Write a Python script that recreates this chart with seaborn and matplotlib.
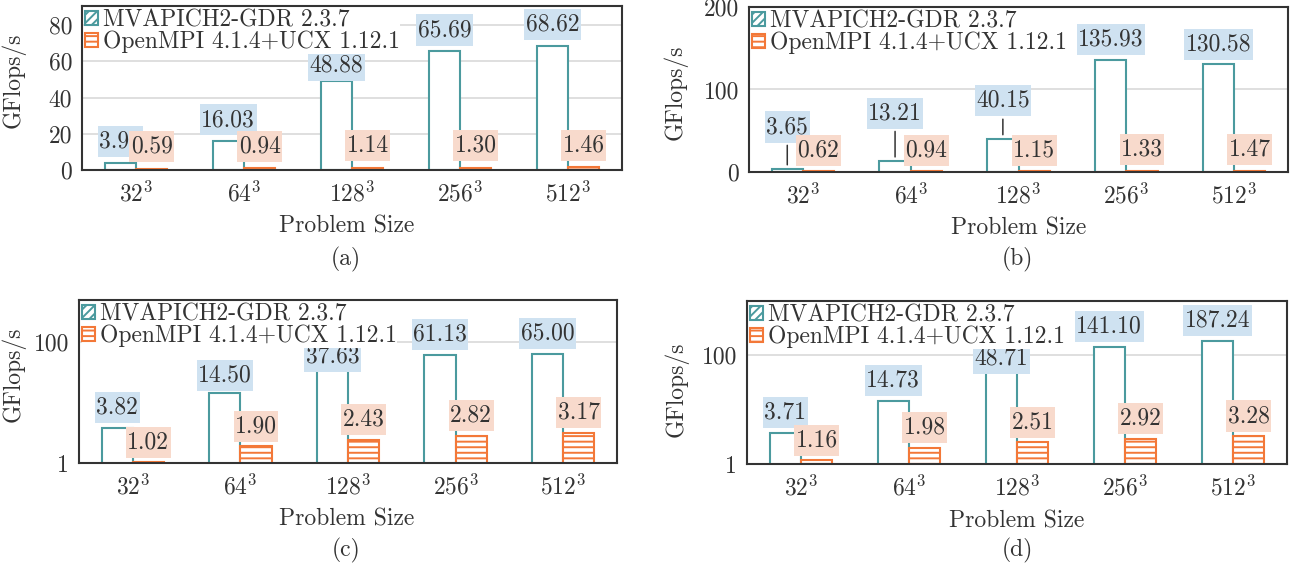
import matplotlib
matplotlib.use("Agg")
import matplotlib.pyplot as plt
import numpy as np
import pandas as pd
import seaborn as sns
from matplotlib.patches import Patch
from matplotlib.path import Path
from matplotlib.ticker import NullLocator

# ---- data -------------------------------------------------------------
sizes = ["32", "64", "128", "256", "512"]
size_labels = [r"$32^3$", r"$64^3$", r"$128^3$", r"$256^3$", r"$512^3$"]
impls = ["MVAPICH2-GDR 2.3.7", "OpenMPI 4.1.4+UCX 1.12.1"]

mvapich_a = [3.90, 16.03, 48.88, 65.69, 68.62]
openmpi_a = [0.59, 0.94, 1.14, 1.30, 1.46]

mvapich_b = [3.65, 13.21, 40.15, 135.93, 130.58]
openmpi_b = [0.62, 0.94, 1.15, 1.33, 1.47]

mvapich_c = [3.82, 14.50, 37.63, 61.13, 65.00]
openmpi_c = [1.02, 1.90, 2.43, 2.82, 3.17]

mvapich_d = [3.71, 14.73, 48.71, 141.10, 187.24]
openmpi_d = [1.16, 1.98, 2.51, 2.92, 3.28]

# ---- style ------------------------------------------------------------
sns.set_theme(style="white")
plt.rcParams["font.family"] = ["cmr10", "DejaVu Serif"]
plt.rcParams["mathtext.fontset"] = "cm"
plt.rcParams["axes.unicode_minus"] = False
plt.rcParams["axes.formatter.use_mathtext"] = True
plt.rcParams["hatch.linewidth"] = 1.4

TEAL = "#4b9a9e"
ORANGE = "#f37838"
BLUE_BG = "#cfe2f1"
PEACH_BG = "#f8dacc"
INK = "#333333"
GRID = "#dcdcdc"
FS = 17

W, H = 1293, 566
fig = plt.figure(figsize=(W / 100, H / 100), dpi=100)


def label_box(x0, y0, width, height, mutation_size):
    """Rectangle with a slim horizontal and a taller vertical margin."""
    px = 0.06 * mutation_size
    py = 0.19 * mutation_size
    x0, y0 = x0 - px, y0 - py
    x1, y1 = x0 + width + 2 * px, y0 + height + 2 * py
    return Path([(x0, y0), (x1, y0), (x1, y1), (x0, y1), (x0, y0)], closed=True)


# panel layout in pixels (left, top, right, bottom) plus per-label lifts (px)
panels = [
    dict(tag="(a)", mv=mvapich_a, om=openmpi_a, log=False, ylim=(0, 90.5),
         yticks=[0, 20, 40, 60, 80], box=(82, 6, 622, 170),
         mv_lift=[21, 21, 16, 21, 21], om_lift=[22] * 5,
         ylab=(-0.104, 0.549), xlab=(0.49, -0.274), cap=(346, 259)),
    dict(tag="(b)", mv=mvapich_b, om=openmpi_b, log=False, ylim=(0, 200),
         yticks=[0, 100, 200], box=(749, 7, 1288, 172),
         mv_lift=[42, 48, 38, 20, 20], om_lift=[21] * 5,
         ylab=(-0.113, 0.482), xlab=(0.5, -0.274), cap=(1017, 259)),
    dict(tag="(c)", mv=mvapich_c, om=openmpi_c, log=True, ylim=(1, 500),
         yticks=[1, 100], box=(79, 300, 617, 463),
         mv_lift=[20, 17, 11, 20.5, 20], om_lift=[20] * 5,
         ylab=(-0.0985, 0.543), xlab=(0.497, -0.277), cap=(346, 550)),
    dict(tag="(d)", mv=mvapich_d, om=openmpi_d, log=True, ylim=(1, 1000),
         yticks=[1, 100], box=(747, 301, 1287, 464),
         mv_lift=[20.5, 20, 14, 20.3, 20], om_lift=[20] * 5,
         ylab=(-0.109, 0.46), xlab=(0.5, -0.282), cap=(1017, 550)),
]

for p in panels:
    l, t, r, b = p["box"]
    ax = fig.add_axes([l / W, 1 - b / H, (r - l) / W, (b - t) / H])

    df = pd.DataFrame({
        "size": sizes * 2,
        "impl": [impls[0]] * len(sizes) + [impls[1]] * len(sizes),
        "gflops": list(p["mv"]) + list(p["om"]),
    })
    sns.barplot(data=df, x="size", y="gflops", hue="impl", order=sizes,
                hue_order=impls, palette=[TEAL, ORANGE], width=0.58,
                saturation=1, errorbar=None, legend=False, ax=ax)

    for container, color, hatch in zip(ax.containers, [TEAL, ORANGE], [None, "---"]):
        for bar in container:
            bar.set_facecolor("white")
            bar.set_edgecolor(color)
            bar.set_linewidth(1.5)
            if hatch:
                bar.set_hatch(hatch)

    if p["log"]:
        ax.set_yscale("log")
        ax.yaxis.set_minor_locator(NullLocator())
    ax.set_ylim(*p["ylim"])
    ax.set_yticks(p["yticks"], [str(v) for v in p["yticks"]])
    ax.set_xticks(range(len(sizes)), size_labels)
    ax.set_xlim(-0.5, len(sizes) - 0.5)

    ax.yaxis.grid(True, color=GRID, lw=1.3)
    ax.xaxis.grid(False)
    ax.set_axisbelow(True)
    for s in ax.spines.values():
        s.set_visible(True)
        s.set_color(INK)
        s.set_linewidth(1.5)
    ax.tick_params(axis="both", length=0, labelsize=FS, colors=INK)
    ax.tick_params(axis="x", pad=8)
    ax.tick_params(axis="y", pad=7)

    ax.set_xlabel("Problem Size", fontsize=FS, color=INK)
    ax.set_ylabel("GFlops/s", fontsize=FS, color=INK)
    ax.yaxis.set_label_coords(*p["ylab"])
    ax.xaxis.set_label_coords(*p["xlab"])

    # value labels above each bar
    for container, vals, lifts, bg, z in zip(
            ax.containers, [p["mv"], p["om"]], [p["mv_lift"], p["om_lift"]],
            [BLUE_BG, PEACH_BG], [4, 5]):
        for bar, v, lift in zip(container, vals, lifts):
            x = bar.get_x() + bar.get_width() / 2
            top = bar.get_y() + bar.get_height()
            arrow = (dict(arrowstyle="-", color=INK, lw=1.1, shrinkA=2, shrinkB=3)
                     if lift > 30 else None)
            ax.annotate(f"{v:.2f}", xy=(x, top), xytext=(0, lift * 0.72),
                        textcoords="offset points", ha="center", va="center",
                        fontsize=FS, color=INK, zorder=z, annotation_clip=False,
                        bbox=dict(boxstyle=label_box, fc=bg, ec="none"),
                        arrowprops=arrow)

    handles = [
        Patch(facecolor="white", edgecolor=TEAL, hatch="////", lw=1.5),
        Patch(facecolor="white", edgecolor=ORANGE, hatch="---", lw=1.5),
    ]
    leg = ax.legend(handles, impls, loc="upper left", bbox_to_anchor=(0, 1),
                    borderaxespad=0.12, borderpad=0.02, labelspacing=-0.02,
                    handlelength=0.55, handleheight=0.55, handletextpad=0.18,
                    fontsize=FS, labelcolor=INK, frameon=True, fancybox=False,
                    framealpha=1, facecolor="white", edgecolor="none")
    leg.set_zorder(6)

    fig.text(p["cap"][0] / W, 1 - p["cap"][1] / H, p["tag"], ha="center",
             va="center", fontsize=FS, color=INK)

fig.savefig("out.png", dpi=100)
